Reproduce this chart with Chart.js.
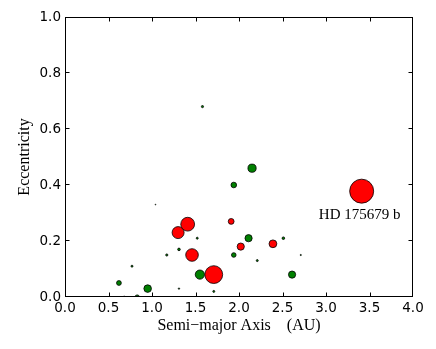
<!DOCTYPE html>
<html>
<head>
<meta charset="utf-8">
<script src="https://cdn.jsdelivr.net/npm/chart.js@4.4.0/dist/chart.umd.min.js"></script>
<style>
  html, body { margin: 0; padding: 0; background: #fff; }
  #wrap { width: 436px; height: 349px; }
</style>
</head>
<body>
<div id="wrap"><canvas id="chart" width="436" height="349"></canvas></div>
<script>
// planets drawn in green (small / other)
const greenAxis = [1.58, 2.15, 1.94, 2.11, 1.52, 2.51, 1.31, 1.17, 1.94, 2.21, 0.77, 1.55, 2.61, 0.62, 0.95, 1.71, 0.83, 1.04, 2.71, 1.31, 0.68];
const greenEcc  = [0.68, 0.46, 0.40, 0.21, 0.21, 0.21, 0.17, 0.15, 0.15, 0.13, 0.11, 0.08, 0.08, 0.05, 0.03, 0.02, 0.00, 0.33, 0.15, 0.03, 0.00];
const greenSize = [1.1, 4.1, 2.8, 3.6, 1.0, 1.3, 1.3, 1.1, 2.3, 1.0, 1.0, 4.6, 3.6, 2.4, 3.8, 1.0, 2.1, 0.4, 0.6, 0.7, 0.9];

// planets drawn in red (massive)
const redAxis = [1.41, 1.30, 1.91, 2.02, 2.39, 1.46, 1.71, 3.41];
const redEcc  = [0.26, 0.23, 0.27, 0.18, 0.19, 0.15, 0.08, 0.378];
const redSize = [6.9, 6.0, 2.9, 3.6, 3.9, 6.3, 8.9, 12.0];

const namedIndex = 7;
const namedLabel = 'HD 175679 b';

const xTicks = [0, 0.5, 1.0, 1.5, 2.0, 2.5, 3.0, 3.5, 4.0];
const yTicks = [0, 0.2, 0.4, 0.6, 0.8, 1.0];

const toPoints = (a, e, s) => a.map((v, i) => ({ x: v, y: e[i], r: s[i] }));

// frame + inward matplotlib-style ticks + the planet label
const frameTicks = {
    id: 'frameTicks',
    afterDatasetsDraw(chart) {
        const { ctx, chartArea: a, scales } = chart;
        const l = a.left + 0.5, r = a.right - 0.5, t = a.top + 0.5, b = a.bottom - 0.5;
        const clamp = (v, lo, hi) => Math.min(Math.max(v, lo), hi);
        ctx.save();
        ctx.strokeStyle = '#000';
        ctx.lineWidth = 1;
        ctx.beginPath();
        scales.x.ticks.forEach(tk => {
            const px = clamp(Math.round(scales.x.getPixelForValue(tk.value)) + 0.5, l, r);
            ctx.moveTo(px, b); ctx.lineTo(px, b - 4);
            ctx.moveTo(px, t); ctx.lineTo(px, t + 4);
        });
        scales.y.ticks.forEach(tk => {
            const py = clamp(Math.round(scales.y.getPixelForValue(tk.value)) - 0.5, t, b);
            ctx.moveTo(l, py); ctx.lineTo(l + 4, py);
            ctx.moveTo(r, py); ctx.lineTo(r - 4, py);
        });
        ctx.stroke();
        ctx.strokeRect(l, t, r - l, b - t);

        const el = chart.getDatasetMeta(1).data[namedIndex];
        ctx.fillStyle = '#000';
        ctx.font = '15px "Liberation Serif"';
        ctx.textAlign = 'center';
        ctx.textBaseline = 'middle';
        ctx.fillText(namedLabel, el.x - 2, el.y + 24);
        ctx.restore();
    }
};

const tickFont = { family: 'DejaVu Sans', size: 13.5 };
const titleFont = { family: 'Liberation Serif', size: 16 };

new Chart(document.getElementById('chart'), {
    type: 'bubble',
    data: {
        datasets: [
            {
                data: toPoints(greenAxis, greenEcc, greenSize),
                backgroundColor: '#008000',
                borderColor: '#000',
                borderWidth: 0.8,
                clip: 0
            },
            {
                data: toPoints(redAxis, redEcc, redSize),
                backgroundColor: '#ff0000',
                borderColor: '#000',
                borderWidth: 0.8,
                clip: 0
            }
        ]
    },
    options: {
        responsive: false,
        devicePixelRatio: 1,
        animation: false,
        layout: { padding: { left: 0, right: 23, top: 17, bottom: 0 } },
        plugins: {
            legend: { display: false },
            tooltip: { enabled: false }
        },
        scales: {
            x: {
                type: 'linear',
                min: 0,
                max: 4,
                afterBuildTicks: s => { s.ticks = xTicks.map(v => ({ value: v })); },
                afterFit: s => { s.height = 52; },
                ticks: {
                    callback: v => v.toFixed(1),
                    font: tickFont,
                    color: '#000',
                    padding: 3,
                    maxRotation: 0,
                    autoSkip: false
                },
                grid: { display: false, drawTicks: false },
                border: { display: false },
                title: {
                    display: true,
                    text: 'Semi\u2212major Axis    (AU)',
                    font: titleFont,
                    color: '#000',
                    padding: { top: 0, bottom: 14 }
                }
            },
            y: {
                type: 'linear',
                min: 0,
                max: 1,
                afterBuildTicks: s => { s.ticks = yTicks.map(v => ({ value: v })); },
                afterFit: s => { s.width = 65; },
                ticks: {
                    callback: v => v.toFixed(1),
                    font: tickFont,
                    color: '#000',
                    padding: 4,
                    autoSkip: false
                },
                grid: { display: false, drawTicks: false },
                border: { display: false },
                title: {
                    display: true,
                    text: 'Eccentricity',
                    font: titleFont,
                    color: '#000',
                    padding: { top: 15, bottom: 0 }
                }
            }
        }
    },
    plugins: [frameTicks]
});
</script>
</body>
</html>
